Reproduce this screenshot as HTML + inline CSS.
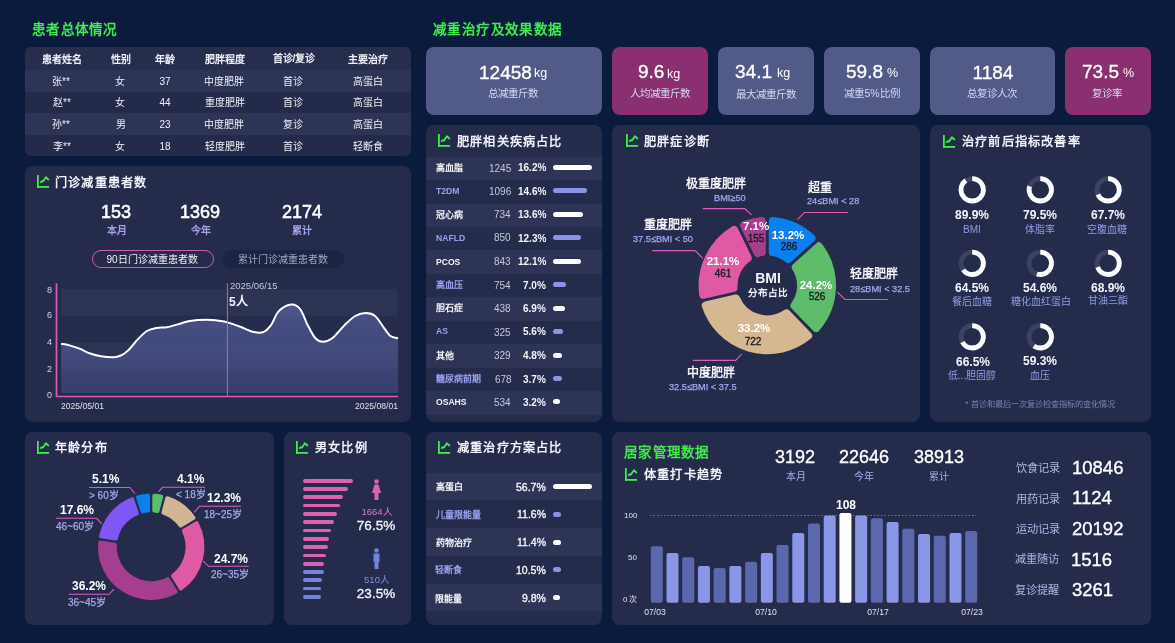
<!DOCTYPE html>
<html lang="zh-CN"><head><meta charset="utf-8"><title>减重门诊数据看板</title>
<style>
html,body{margin:0;padding:0;}
body{width:1175px;height:643px;position:relative;overflow:hidden;background:#0b1b3d;font-family:"Liberation Sans", sans-serif;}
.t{position:absolute;white-space:nowrap;will-change:transform;}
.r{position:absolute;}

</style></head><body>
<div class="t" id="t0" style="left:31.60px;top:20.82px;line-height:17.55px;font-size:13.5px;color:#3fec4c;font-weight:700;letter-spacing:1.3px"><span>患者总体情况</span></div>
<div class="r" style="left:25px;top:47px;width:386.00px;height:109.00px;background:#242a49;border-radius:6px;overflow:hidden"></div>
<div class="r" style="left:25px;top:47px;width:386px;height:109px;border-radius:6px;overflow:hidden">
<div class="r" style="left:0;top:0;width:386px;height:23.4px;background:#262d4d"></div>
<div class="r" style="left:0;top:23.4px;width:386px;height:21.4px;background:#2d3455"></div>
<div class="r" style="left:0;top:66.2px;width:386px;height:21.4px;background:#2d3455"></div>
</div>
<div class="t" id="t1" style="left:-87.70px;width:300px;text-align:center;top:52.70px;line-height:13.0px;font-size:10px;color:#f0f1f8;font-weight:700;"><span>患者姓名</span></div>
<div class="t" id="t2" style="left:-29.20px;width:300px;text-align:center;top:52.70px;line-height:13.0px;font-size:10px;color:#f0f1f8;font-weight:700;"><span>性别</span></div>
<div class="t" id="t3" style="left:15.00px;width:300px;text-align:center;top:52.70px;line-height:13.0px;font-size:10px;color:#f0f1f8;font-weight:700;"><span>年龄</span></div>
<div class="t" id="t4" style="left:74.80px;width:300px;text-align:center;top:52.70px;line-height:13.0px;font-size:10px;color:#f0f1f8;font-weight:700;"><span>肥胖程度</span></div>
<div class="t" id="t5" style="left:143.90px;width:300px;text-align:center;top:52.20px;line-height:13.0px;font-size:10px;color:#f0f1f8;font-weight:700;"><span>首诊/复诊</span></div>
<div class="t" id="t6" style="left:218.00px;width:300px;text-align:center;top:52.70px;line-height:13.0px;font-size:10px;color:#f0f1f8;font-weight:700;"><span>主要治疗</span></div>
<div class="t" id="t7" style="left:-89.20px;width:300px;text-align:center;top:75.30px;line-height:13.0px;font-size:10px;color:#f0f1f8;font-weight:500;"><span>张**</span></div>
<div class="t" id="t8" style="left:-29.70px;width:300px;text-align:center;top:75.30px;line-height:13.0px;font-size:10px;color:#f0f1f8;font-weight:500;"><span>女</span></div>
<div class="t" id="t9" style="left:15.00px;width:300px;text-align:center;top:75.30px;line-height:13.0px;font-size:10px;color:#f0f1f8;font-weight:500;"><span>37</span></div>
<div class="t" id="t10" style="left:74.30px;width:300px;text-align:center;top:75.30px;line-height:13.0px;font-size:10px;color:#f0f1f8;font-weight:500;"><span>中度肥胖</span></div>
<div class="t" id="t11" style="left:143.40px;width:300px;text-align:center;top:75.30px;line-height:13.0px;font-size:10px;color:#f0f1f8;font-weight:500;"><span>首诊</span></div>
<div class="t" id="t12" style="left:218.00px;width:300px;text-align:center;top:75.30px;line-height:13.0px;font-size:10px;color:#f0f1f8;font-weight:500;"><span>高蛋白</span></div>
<div class="t" id="t13" style="left:-88.20px;width:300px;text-align:center;top:96.30px;line-height:13.0px;font-size:10px;color:#f0f1f8;font-weight:500;"><span>赵**</span></div>
<div class="t" id="t14" style="left:-29.70px;width:300px;text-align:center;top:96.30px;line-height:13.0px;font-size:10px;color:#f0f1f8;font-weight:500;"><span>女</span></div>
<div class="t" id="t15" style="left:14.50px;width:300px;text-align:center;top:96.30px;line-height:13.0px;font-size:10px;color:#f0f1f8;font-weight:500;"><span>44</span></div>
<div class="t" id="t16" style="left:74.80px;width:300px;text-align:center;top:96.30px;line-height:13.0px;font-size:10px;color:#f0f1f8;font-weight:500;"><span>重度肥胖</span></div>
<div class="t" id="t17" style="left:143.40px;width:300px;text-align:center;top:96.30px;line-height:13.0px;font-size:10px;color:#f0f1f8;font-weight:500;"><span>首诊</span></div>
<div class="t" id="t18" style="left:218.00px;width:300px;text-align:center;top:96.30px;line-height:13.0px;font-size:10px;color:#f0f1f8;font-weight:500;"><span>高蛋白</span></div>
<div class="t" id="t19" style="left:-89.20px;width:300px;text-align:center;top:117.90px;line-height:13.0px;font-size:10px;color:#f0f1f8;font-weight:500;"><span>孙**</span></div>
<div class="t" id="t20" style="left:-29.20px;width:300px;text-align:center;top:117.90px;line-height:13.0px;font-size:10px;color:#f0f1f8;font-weight:500;"><span>男</span></div>
<div class="t" id="t21" style="left:15.00px;width:300px;text-align:center;top:117.90px;line-height:13.0px;font-size:10px;color:#f0f1f8;font-weight:500;"><span>23</span></div>
<div class="t" id="t22" style="left:74.30px;width:300px;text-align:center;top:117.90px;line-height:13.0px;font-size:10px;color:#f0f1f8;font-weight:500;"><span>中度肥胖</span></div>
<div class="t" id="t23" style="left:142.90px;width:300px;text-align:center;top:117.90px;line-height:13.0px;font-size:10px;color:#f0f1f8;font-weight:500;"><span>复诊</span></div>
<div class="t" id="t24" style="left:218.00px;width:300px;text-align:center;top:117.90px;line-height:13.0px;font-size:10px;color:#f0f1f8;font-weight:500;"><span>高蛋白</span></div>
<div class="t" id="t25" style="left:-88.20px;width:300px;text-align:center;top:139.90px;line-height:13.0px;font-size:10px;color:#f0f1f8;font-weight:500;"><span>李**</span></div>
<div class="t" id="t26" style="left:-29.70px;width:300px;text-align:center;top:139.90px;line-height:13.0px;font-size:10px;color:#f0f1f8;font-weight:500;"><span>女</span></div>
<div class="t" id="t27" style="left:15.00px;width:300px;text-align:center;top:139.90px;line-height:13.0px;font-size:10px;color:#f0f1f8;font-weight:500;"><span>18</span></div>
<div class="t" id="t28" style="left:74.80px;width:300px;text-align:center;top:139.90px;line-height:13.0px;font-size:10px;color:#f0f1f8;font-weight:500;"><span>轻度肥胖</span></div>
<div class="t" id="t29" style="left:143.40px;width:300px;text-align:center;top:139.90px;line-height:13.0px;font-size:10px;color:#f0f1f8;font-weight:500;"><span>首诊</span></div>
<div class="t" id="t30" style="left:218.00px;width:300px;text-align:center;top:139.90px;line-height:13.0px;font-size:10px;color:#f0f1f8;font-weight:500;"><span>轻断食</span></div>
<div class="r" style="left:25px;top:166px;width:386.00px;height:256.00px;background:#252c4b;border-radius:8px;"></div>
<svg class="r" style="left:37px;top:175px" width="13" height="14" viewBox="0 0 13 14"><rect x="0" y="0" width="1.8" height="12.8" fill="#3fec4c"/><rect x="0" y="11" width="12.1" height="1.8" fill="#3fec4c"/><path d="M3.1 7.6L4.8 6.2L6 6.6L8.9 2.2L11.8 5" fill="none" stroke="#3fec4c" stroke-width="1.8" stroke-linejoin="round"/></svg>
<div class="t" id="t31" style="left:55.20px;top:176.27px;line-height:15.86px;font-size:12.2px;color:#f2f3fa;font-weight:700;letter-spacing:1.2px"><span>门诊减重患者数</span></div>
<div class="t" id="t32" style="left:-34.00px;width:300px;text-align:center;top:201.20px;line-height:23.4px;font-size:18px;color:#ffffff;font-weight:400;-webkit-text-stroke:0.55px #fff"><span>153</span></div>
<div class="t" id="t33" style="left:-33.50px;width:300px;text-align:center;top:224.10px;line-height:13.0px;font-size:10px;color:#a6a3e8;font-weight:700;"><span>本月</span></div>
<div class="t" id="t34" style="left:50.30px;width:300px;text-align:center;top:201.20px;line-height:23.4px;font-size:18px;color:#ffffff;font-weight:400;-webkit-text-stroke:0.55px #fff"><span>1369</span></div>
<div class="t" id="t35" style="left:50.80px;width:300px;text-align:center;top:224.10px;line-height:13.0px;font-size:10px;color:#a6a3e8;font-weight:700;"><span>今年</span></div>
<div class="t" id="t36" style="left:152.00px;width:300px;text-align:center;top:201.20px;line-height:23.4px;font-size:18px;color:#ffffff;font-weight:400;-webkit-text-stroke:0.55px #fff"><span>2174</span></div>
<div class="t" id="t37" style="left:152.00px;width:300px;text-align:center;top:224.10px;line-height:13.0px;font-size:10px;color:#a6a3e8;font-weight:700;"><span>累计</span></div>
<div class="r" style="left:91.7px;top:249.8px;width:120.3px;height:16px;border:1px solid #d35ab2;border-radius:9px"></div>
<div class="t" id="t38" style="left:2.20px;width:300px;text-align:center;top:252.70px;line-height:13.0px;font-size:10px;color:#f2f2fa;font-weight:500;"><span>90日门诊减重患者数</span></div>
<div class="r" style="left:222px;top:250px;width:122.00px;height:18.00px;background:#1c2444;border-radius:9px;"></div>
<div class="t" id="t39" style="left:132.50px;width:300px;text-align:center;top:252.50px;line-height:13.0px;font-size:10px;color:#a3a6c2;font-weight:400;"><span>累计门诊减重患者数</span></div>
<svg class="r" style="left:0;top:0" width="1175" height="643"><defs><linearGradient id="ag" x1="0" y1="0" x2="0" y2="1"><stop offset="0" stop-color="#5a62a0" stop-opacity="0.72"/><stop offset="1" stop-color="#4a5290" stop-opacity="0.5"/></linearGradient></defs><rect x="61" y="289" width="336.6" height="26.7" fill="#2d3453"/><rect x="61" y="342.4" width="336.6" height="26.7" fill="#2d3453"/><path d="M61.10,343.70 C62.63,344.02 67.23,344.78 70.30,345.60 C73.37,346.42 76.18,347.28 79.50,348.60 C82.82,349.92 86.62,352.22 90.20,353.50 C93.78,354.78 97.17,355.67 101.00,356.30 C104.83,356.93 109.88,357.43 113.20,357.30 C116.52,357.17 118.35,356.70 120.90,355.50 C123.45,354.30 125.70,352.78 128.50,350.10 C131.30,347.42 134.63,342.58 137.70,339.40 C140.77,336.22 143.83,332.92 146.90,331.00 C149.97,329.08 152.78,328.53 156.10,327.90 C159.42,327.27 163.23,327.78 166.80,327.20 C170.37,326.62 173.67,325.43 177.50,324.40 C181.33,323.37 184.93,321.77 189.80,321.00 C194.67,320.23 201.60,319.80 206.70,319.80 C211.80,319.80 216.95,320.57 220.40,321.00 C223.85,321.43 224.08,321.43 227.40,322.40 C230.72,323.37 236.10,325.25 240.30,326.80 C244.50,328.35 248.77,330.82 252.60,331.70 C256.43,332.58 260.23,333.18 263.30,332.10 C266.37,331.02 268.45,328.65 271.00,325.20 C273.55,321.75 275.28,314.83 278.60,311.40 C281.92,307.97 287.32,304.98 290.90,304.60 C294.48,304.22 297.30,305.67 300.10,309.10 C302.90,312.53 305.15,320.33 307.70,325.20 C310.25,330.07 312.85,335.53 315.40,338.30 C317.95,341.07 320.20,341.80 323.00,341.80 C325.80,341.80 328.62,341.07 332.20,338.30 C335.78,335.53 340.67,328.92 344.50,325.20 C348.33,321.48 351.63,318.03 355.20,316.00 C358.77,313.97 362.58,313.00 365.90,313.00 C369.22,313.00 372.03,313.45 375.10,316.00 C378.17,318.55 381.75,324.97 384.30,328.30 C386.85,331.63 388.10,334.33 390.40,336.00 C392.70,337.67 396.82,337.92 398.10,338.30 L398.1,393 L61.1,393 Z" fill="url(#ag)"/><path d="M61.10,343.70 C62.63,344.02 67.23,344.78 70.30,345.60 C73.37,346.42 76.18,347.28 79.50,348.60 C82.82,349.92 86.62,352.22 90.20,353.50 C93.78,354.78 97.17,355.67 101.00,356.30 C104.83,356.93 109.88,357.43 113.20,357.30 C116.52,357.17 118.35,356.70 120.90,355.50 C123.45,354.30 125.70,352.78 128.50,350.10 C131.30,347.42 134.63,342.58 137.70,339.40 C140.77,336.22 143.83,332.92 146.90,331.00 C149.97,329.08 152.78,328.53 156.10,327.90 C159.42,327.27 163.23,327.78 166.80,327.20 C170.37,326.62 173.67,325.43 177.50,324.40 C181.33,323.37 184.93,321.77 189.80,321.00 C194.67,320.23 201.60,319.80 206.70,319.80 C211.80,319.80 216.95,320.57 220.40,321.00 C223.85,321.43 224.08,321.43 227.40,322.40 C230.72,323.37 236.10,325.25 240.30,326.80 C244.50,328.35 248.77,330.82 252.60,331.70 C256.43,332.58 260.23,333.18 263.30,332.10 C266.37,331.02 268.45,328.65 271.00,325.20 C273.55,321.75 275.28,314.83 278.60,311.40 C281.92,307.97 287.32,304.98 290.90,304.60 C294.48,304.22 297.30,305.67 300.10,309.10 C302.90,312.53 305.15,320.33 307.70,325.20 C310.25,330.07 312.85,335.53 315.40,338.30 C317.95,341.07 320.20,341.80 323.00,341.80 C325.80,341.80 328.62,341.07 332.20,338.30 C335.78,335.53 340.67,328.92 344.50,325.20 C348.33,321.48 351.63,318.03 355.20,316.00 C358.77,313.97 362.58,313.00 365.90,313.00 C369.22,313.00 372.03,313.45 375.10,316.00 C378.17,318.55 381.75,324.97 384.30,328.30 C386.85,331.63 388.10,334.33 390.40,336.00 C392.70,337.67 396.82,337.92 398.10,338.30" fill="none" stroke="#ffffff" stroke-width="2"/><path d="M56.5,283.3V396.5H398.1" fill="none" stroke="#d85cb8" stroke-width="1.7"/><path d="M227.4,283.3V396" stroke="#d35ab2" stroke-width="1"/></svg>
<div class="t" id="t40" style="right:1123.00px;text-align:right;top:284.55px;line-height:11.7px;font-size:9px;color:#d4d6e4;font-weight:400;"><span>8</span></div>
<div class="t" id="t41" style="right:1123.00px;text-align:right;top:310.35px;line-height:11.7px;font-size:9px;color:#d4d6e4;font-weight:400;"><span>6</span></div>
<div class="t" id="t42" style="right:1123.00px;text-align:right;top:337.15px;line-height:11.7px;font-size:9px;color:#d4d6e4;font-weight:400;"><span>4</span></div>
<div class="t" id="t43" style="right:1123.00px;text-align:right;top:364.15px;line-height:11.7px;font-size:9px;color:#d4d6e4;font-weight:400;"><span>2</span></div>
<div class="t" id="t44" style="right:1123.00px;text-align:right;top:390.35px;line-height:11.7px;font-size:9px;color:#d4d6e4;font-weight:400;"><span>0</span></div>
<div class="t" id="t45" style="left:229.80px;top:279.92px;line-height:12.35px;font-size:9.5px;color:#c8cad8;font-weight:400;"><span>2025/06/15</span></div>
<div class="t" id="t46" style="left:229.40px;top:294.50px;line-height:15.6px;font-size:12px;color:#f4f4fa;font-weight:700;"><span>5人</span></div>
<div class="t" id="t47" style="left:61.00px;top:401.31px;line-height:11.18px;font-size:8.6px;color:#e0e2ee;font-weight:400;"><span>2025/05/01</span></div>
<div class="t" id="t48" style="right:777.20px;text-align:right;top:401.31px;line-height:11.18px;font-size:8.6px;color:#e0e2ee;font-weight:400;"><span>2025/08/01</span></div>
<div class="r" style="left:25px;top:432px;width:249.00px;height:193.00px;background:#252c4b;border-radius:8px;"></div>
<svg class="r" style="left:37px;top:441px" width="13" height="14" viewBox="0 0 13 14"><rect x="0" y="0" width="1.8" height="12.8" fill="#3fec4c"/><rect x="0" y="11" width="12.1" height="1.8" fill="#3fec4c"/><path d="M3.1 7.6L4.8 6.2L6 6.6L8.9 2.2L11.8 5" fill="none" stroke="#3fec4c" stroke-width="1.8" stroke-linejoin="round"/></svg>
<div class="t" id="t49" style="left:55.00px;top:441.07px;line-height:15.86px;font-size:12.2px;color:#f2f3fa;font-weight:700;letter-spacing:1.2px"><span>年龄分布</span></div>
<svg class="r" style="left:0;top:0" width="1175" height="643"><path d="M154.30,495.69 A51.20,51.20 0 0 1 161.22,496.59 L157.44,510.94 A36.40,36.40 0 0 0 154.30,510.53 Z" fill="#5dbd6b" stroke="#5dbd6b" stroke-width="4" stroke-linejoin="round"/><path d="M167.22,498.17 A51.20,51.20 0 0 1 193.43,517.85 L180.71,525.48 A36.40,36.40 0 0 0 163.44,512.52 Z" fill="#d4b591" stroke="#d4b591" stroke-width="4" stroke-linejoin="round"/><path d="M196.62,523.17 A51.20,51.20 0 0 1 180.94,588.48 L173.07,575.90 A36.40,36.40 0 0 0 183.90,530.80 Z" fill="#df5aa3" stroke="#df5aa3" stroke-width="4" stroke-linejoin="round"/><path d="M175.68,591.77 A51.20,51.20 0 0 1 100.18,542.51 L114.86,544.64 A36.40,36.40 0 0 0 167.81,579.19 Z" fill="#a63d8e" stroke="#a63d8e" stroke-width="4" stroke-linejoin="round"/><path d="M101.07,536.37 A51.20,51.20 0 0 1 132.16,499.27 L136.83,513.35 A36.40,36.40 0 0 0 115.76,538.51 Z" fill="#7f57f5" stroke="#7f57f5" stroke-width="4" stroke-linejoin="round"/><path d="M138.04,497.32 A51.20,51.20 0 0 1 148.10,495.69 L148.10,510.53 A36.40,36.40 0 0 0 142.72,511.40 Z" fill="#0b80f0" stroke="#0b80f0" stroke-width="4" stroke-linejoin="round"/><path d="M89.2,487.5H129.8L134.9,493.5" fill="none" stroke="#de5cc0" stroke-width="1.1"/><path d="M158.7,491.7L162.5,487.3H205" fill="none" stroke="#de5cc0" stroke-width="1.1"/><path d="M194.1,512.3L199.5,506.3H240.9" fill="none" stroke="#de5cc0" stroke-width="1.1"/><path d="M56,518.3H96.8L101.7,523.8" fill="none" stroke="#de5cc0" stroke-width="1.1"/><path d="M203.2,561.2L208.6,566.3H248.9" fill="none" stroke="#de5cc0" stroke-width="1.1"/><path d="M68.7,594.3H109L113.9,589.1" fill="none" stroke="#de5cc0" stroke-width="1.1"/></svg>
<div class="t" id="t50" style="right:1055.60px;text-align:right;top:471.90px;line-height:15.6px;font-size:12px;color:#fff;font-weight:700;"><span>5.1%</span></div>
<div class="t" id="t51" style="right:1056.00px;text-align:right;top:489.00px;line-height:13.0px;font-size:10px;color:#a3a9ee;font-weight:400;-webkit-text-stroke:0.25px #a3a9ee"><span>&gt; 60岁</span></div>
<div class="t" id="t52" style="right:970.20px;text-align:right;top:471.90px;line-height:15.6px;font-size:12px;color:#fff;font-weight:700;"><span>4.1%</span></div>
<div class="t" id="t53" style="right:969.40px;text-align:right;top:488.40px;line-height:13.0px;font-size:10px;color:#a3a9ee;font-weight:400;-webkit-text-stroke:0.25px #a3a9ee"><span>&lt; 18岁</span></div>
<div class="t" id="t54" style="right:934.40px;text-align:right;top:491.10px;line-height:15.6px;font-size:12px;color:#fff;font-weight:700;"><span>12.3%</span></div>
<div class="t" id="t55" style="right:933.40px;text-align:right;top:507.60px;line-height:13.0px;font-size:10px;color:#a3a9ee;font-weight:400;-webkit-text-stroke:0.25px #a3a9ee"><span>18~25岁</span></div>
<div class="t" id="t56" style="right:1081.40px;text-align:right;top:502.90px;line-height:15.6px;font-size:12px;color:#fff;font-weight:700;"><span>17.6%</span></div>
<div class="t" id="t57" style="right:1080.60px;text-align:right;top:519.60px;line-height:13.0px;font-size:10px;color:#a3a9ee;font-weight:400;-webkit-text-stroke:0.25px #a3a9ee"><span>46~60岁</span></div>
<div class="t" id="t58" style="right:926.80px;text-align:right;top:551.70px;line-height:15.6px;font-size:12px;color:#fff;font-weight:700;"><span>24.7%</span></div>
<div class="t" id="t59" style="right:925.80px;text-align:right;top:568.40px;line-height:13.0px;font-size:10px;color:#a3a9ee;font-weight:400;-webkit-text-stroke:0.25px #a3a9ee"><span>26~35岁</span></div>
<div class="t" id="t60" style="right:1069.20px;text-align:right;top:578.90px;line-height:15.6px;font-size:12px;color:#fff;font-weight:700;"><span>36.2%</span></div>
<div class="t" id="t61" style="right:1068.80px;text-align:right;top:595.60px;line-height:13.0px;font-size:10px;color:#a3a9ee;font-weight:400;-webkit-text-stroke:0.25px #a3a9ee"><span>36~45岁</span></div>
<div class="r" style="left:284px;top:432px;width:127.00px;height:193.00px;background:#252c4b;border-radius:8px;"></div>
<svg class="r" style="left:296px;top:441px" width="13" height="14" viewBox="0 0 13 14"><rect x="0" y="0" width="1.8" height="12.8" fill="#3fec4c"/><rect x="0" y="11" width="12.1" height="1.8" fill="#3fec4c"/><path d="M3.1 7.6L4.8 6.2L6 6.6L8.9 2.2L11.8 5" fill="none" stroke="#3fec4c" stroke-width="1.8" stroke-linejoin="round"/></svg>
<div class="t" id="t62" style="left:315.00px;top:441.07px;line-height:15.86px;font-size:12.2px;color:#f2f3fa;font-weight:700;letter-spacing:1.2px"><span>男女比例</span></div>
<div class="r" style="left:302.6px;top:478.8px;width:50.50px;height:3.80px;background:#dc62b4;border-radius:2px;"></div>
<div class="r" style="left:302.6px;top:487.1px;width:45.00px;height:3.80px;background:#dc62b4;border-radius:2px;"></div>
<div class="r" style="left:302.6px;top:495.4px;width:40.60px;height:3.80px;background:#dc62b4;border-radius:2px;"></div>
<div class="r" style="left:302.6px;top:503.7px;width:37.30px;height:3.80px;background:#dc62b4;border-radius:2px;"></div>
<div class="r" style="left:302.6px;top:512.0px;width:34.30px;height:3.80px;background:#dc62b4;border-radius:2px;"></div>
<div class="r" style="left:302.6px;top:520.3px;width:31.00px;height:3.80px;background:#dc62b4;border-radius:2px;"></div>
<div class="r" style="left:302.6px;top:528.6px;width:28.90px;height:3.80px;background:#dc62b4;border-radius:2px;"></div>
<div class="r" style="left:302.6px;top:536.9px;width:26.40px;height:3.80px;background:#dc62b4;border-radius:2px;"></div>
<div class="r" style="left:302.6px;top:545.2px;width:25.60px;height:3.80px;background:#dc62b4;border-radius:2px;"></div>
<div class="r" style="left:302.6px;top:553.5px;width:23.50px;height:3.80px;background:#dc62b4;border-radius:2px;"></div>
<div class="r" style="left:302.6px;top:561.8px;width:21.40px;height:3.80px;background:#dc62b4;border-radius:2px;"></div>
<div class="r" style="left:302.6px;top:570.1px;width:21.40px;height:3.80px;background:#7384e0;border-radius:2px;"></div>
<div class="r" style="left:302.6px;top:578.4px;width:19.90px;height:3.80px;background:#7384e0;border-radius:2px;"></div>
<div class="r" style="left:302.6px;top:586.7px;width:18.40px;height:3.80px;background:#7384e0;border-radius:2px;"></div>
<div class="r" style="left:302.6px;top:595.0px;width:18.40px;height:3.80px;background:#7384e0;border-radius:2px;"></div>
<svg class="r" style="left:370px;top:479px" width="13" height="22" viewBox="0 0 13 22"><circle cx="6.5" cy="2.5" r="2.3" fill="#dc62b4"/><path d="M4.5 5.5H8.5L11 14H8.5V21H4.5V14H2Z" fill="#dc62b4"/></svg>
<svg class="r" style="left:370px;top:548px" width="13" height="22" viewBox="0 0 13 22"><circle cx="6.5" cy="2.5" r="2.3" fill="#7384e0"/><path d="M3.5 5.5H9.5V14H8.5V21H4.5V14H3.5Z" fill="#7384e0"/></svg>
<div class="t" id="t63" style="left:226.70px;width:300px;text-align:center;top:505.92px;line-height:12.35px;font-size:9.5px;color:#d77fc0;font-weight:500;"><span>1664人</span></div>
<div class="t" id="t64" style="left:226.00px;width:300px;text-align:center;top:517.42px;line-height:17.55px;font-size:13.5px;color:#f6f6fb;font-weight:400;-webkit-text-stroke:0.3px #f6f6fb"><span>76.5%</span></div>
<div class="t" id="t65" style="left:227.00px;width:300px;text-align:center;top:573.73px;line-height:12.35px;font-size:9.5px;color:#7e8ee8;font-weight:500;"><span>510人</span></div>
<div class="t" id="t66" style="left:226.00px;width:300px;text-align:center;top:585.23px;line-height:17.55px;font-size:13.5px;color:#f6f6fb;font-weight:400;-webkit-text-stroke:0.3px #f6f6fb"><span>23.5%</span></div>
<div class="t" id="t67" style="left:433.40px;top:20.63px;line-height:17.55px;font-size:13.5px;color:#3fec4c;font-weight:700;letter-spacing:1.4px"><span>减重治疗及效果数据</span></div>
<div class="r" style="left:426px;top:47px;width:176.00px;height:68.00px;background:#525a87;border-radius:8px;"></div>
<div class="t" id="t68" style="right:643.00px;text-align:right;top:60.65px;line-height:24.7px;font-size:19px;color:#ffffff;font-weight:400;-webkit-text-stroke:0.35px #fff"><span>12458</span></div>
<div class="t" id="t69" style="left:534.00px;top:65.47px;line-height:16.25px;font-size:12.5px;color:#ffffff;font-weight:400;"><span>kg</span></div>
<div class="t" id="t70" style="left:363.00px;width:300px;text-align:center;top:87.17px;line-height:13.65px;font-size:10.5px;color:#d6d8f2;font-weight:500;"><span>总减重斤数</span></div>
<div class="r" style="left:612px;top:47px;width:96.00px;height:68.00px;background:#8a2f6f;border-radius:8px;"></div>
<div class="t" id="t71" style="right:510.50px;text-align:right;top:60.25px;line-height:24.7px;font-size:19px;color:#ffffff;font-weight:400;-webkit-text-stroke:0.35px #fff"><span>9.6</span></div>
<div class="t" id="t72" style="left:666.50px;top:65.88px;line-height:16.25px;font-size:12.5px;color:#ffffff;font-weight:400;"><span>kg</span></div>
<div class="t" id="t73" style="left:509.50px;width:300px;text-align:center;top:86.78px;line-height:13.65px;font-size:10.5px;color:#d6d8f2;font-weight:500;"><span>人均减重斤数</span></div>
<div class="r" style="left:718px;top:47px;width:96.00px;height:68.00px;background:#525a87;border-radius:8px;"></div>
<div class="t" id="t74" style="right:403.00px;text-align:right;top:60.15px;line-height:24.7px;font-size:19px;color:#ffffff;font-weight:400;-webkit-text-stroke:0.35px #fff"><span>34.1</span></div>
<div class="t" id="t75" style="left:776.50px;top:65.47px;line-height:16.25px;font-size:12.5px;color:#ffffff;font-weight:400;"><span>kg</span></div>
<div class="t" id="t76" style="left:615.50px;width:300px;text-align:center;top:87.67px;line-height:13.65px;font-size:10.5px;color:#d6d8f2;font-weight:500;"><span>最大减重斤数</span></div>
<div class="r" style="left:824px;top:47px;width:96.00px;height:68.00px;background:#525a87;border-radius:8px;"></div>
<div class="t" id="t77" style="right:292.00px;text-align:right;top:60.25px;line-height:24.7px;font-size:19px;color:#ffffff;font-weight:400;-webkit-text-stroke:0.35px #fff"><span>59.8</span></div>
<div class="t" id="t78" style="left:886.50px;top:65.38px;line-height:16.25px;font-size:12.5px;color:#ffffff;font-weight:400;"><span>%</span></div>
<div class="t" id="t79" style="left:721.50px;width:300px;text-align:center;top:86.78px;line-height:13.65px;font-size:10.5px;color:#d6d8f2;font-weight:500;"><span>减重5%比例</span></div>
<div class="r" style="left:930px;top:47px;width:125.00px;height:68.00px;background:#525a87;border-radius:8px;"></div>
<div class="t" id="t80" style="left:842.50px;width:300px;text-align:center;top:60.65px;line-height:24.7px;font-size:19px;color:#ffffff;font-weight:400;-webkit-text-stroke:0.35px #fff"><span>1184</span></div>
<div class="t" id="t81" style="left:841.50px;width:300px;text-align:center;top:87.16px;line-height:13.65px;font-size:10.5px;color:#d6d8f2;font-weight:500;"><span>总复诊人次</span></div>
<div class="r" style="left:1065px;top:47px;width:86.00px;height:68.00px;background:#8a2f6f;border-radius:8px;"></div>
<div class="t" id="t82" style="right:56.10px;text-align:right;top:60.13px;line-height:24.7px;font-size:19px;color:#ffffff;font-weight:400;-webkit-text-stroke:0.35px #fff"><span>73.5</span></div>
<div class="t" id="t83" style="left:1123.00px;top:65.36px;line-height:16.25px;font-size:12.5px;color:#ffffff;font-weight:400;"><span>%</span></div>
<div class="t" id="t84" style="left:957.00px;width:300px;text-align:center;top:86.70px;line-height:13.65px;font-size:10.5px;color:#d6d8f2;font-weight:500;"><span>复诊率</span></div>
<div class="r" style="left:426px;top:125px;width:176.00px;height:297.00px;background:#252c4b;border-radius:8px;"></div>
<svg class="r" style="left:438px;top:134px" width="13" height="14" viewBox="0 0 13 14"><rect x="0" y="0" width="1.8" height="12.8" fill="#3fec4c"/><rect x="0" y="11" width="12.1" height="1.8" fill="#3fec4c"/><path d="M3.1 7.6L4.8 6.2L6 6.6L8.9 2.2L11.8 5" fill="none" stroke="#3fec4c" stroke-width="1.8" stroke-linejoin="round"/></svg>
<div class="t" id="t85" style="left:457.40px;top:134.60px;line-height:15.86px;font-size:12.2px;color:#f2f3fa;font-weight:700;letter-spacing:1.2px"><span>肥胖相关疾病占比</span></div>
<div class="r" style="left:426px;top:125px;width:176px;height:297px;border-radius:8px;overflow:hidden">
<div class="r" style="left:0;top:31.60px;width:176px;height:23.45px;background:#2d3455"></div>
<div class="r" style="left:0;top:78.50px;width:176px;height:23.45px;background:#2d3455"></div>
<div class="r" style="left:0;top:125.40px;width:176px;height:23.45px;background:#2d3455"></div>
<div class="r" style="left:0;top:172.30px;width:176px;height:23.45px;background:#2d3455"></div>
<div class="r" style="left:0;top:219.20px;width:176px;height:23.45px;background:#2d3455"></div>
<div class="r" style="left:0;top:266.10px;width:176px;height:23.45px;background:#2d3455"></div>
</div>
<div class="t" id="t86" style="left:436.00px;top:162.98px;line-height:11.7px;font-size:9px;color:#f4f4fa;font-weight:700;"><span>高血脂</span></div>
<div class="t" id="t87" style="right:664.00px;text-align:right;top:161.88px;line-height:13.0px;font-size:10px;color:#c6c9dc;font-weight:400;"><span>1245</span></div>
<div class="t" id="t88" style="right:628.60px;text-align:right;top:161.38px;line-height:13.0px;font-size:10px;color:#f4f4fa;font-weight:700;"><span>16.2%</span></div>
<div class="r" style="left:553px;top:164.92px;width:38.80px;height:5.00px;background:#ffffff;border-radius:2.5px;"></div>
<div class="t" id="t89" style="left:436.00px;top:186.04px;line-height:11.18px;font-size:8.6px;color:#9aa2f0;font-weight:700;"><span>T2DM</span></div>
<div class="t" id="t90" style="right:664.00px;text-align:right;top:185.18px;line-height:13.0px;font-size:10px;color:#c6c9dc;font-weight:400;"><span>1096</span></div>
<div class="t" id="t91" style="right:628.60px;text-align:right;top:185.18px;line-height:13.0px;font-size:10px;color:#f4f4fa;font-weight:700;"><span>14.6%</span></div>
<div class="r" style="left:553px;top:188.37px;width:34.30px;height:5.00px;background:#8a94e6;border-radius:2.5px;"></div>
<div class="t" id="t92" style="left:436.00px;top:209.59px;line-height:11.7px;font-size:9px;color:#f4f4fa;font-weight:700;"><span>冠心病</span></div>
<div class="t" id="t93" style="right:664.00px;text-align:right;top:208.06px;line-height:13.0px;font-size:10px;color:#c6c9dc;font-weight:400;"><span>734</span></div>
<div class="t" id="t94" style="right:628.60px;text-align:right;top:208.04px;line-height:13.0px;font-size:10px;color:#f4f4fa;font-weight:700;"><span>13.6%</span></div>
<div class="r" style="left:553px;top:211.82px;width:29.80px;height:5.00px;background:#ffffff;border-radius:2.5px;"></div>
<div class="t" id="t95" style="left:436.00px;top:232.70px;line-height:11.18px;font-size:8.6px;color:#9aa2f0;font-weight:700;"><span>NAFLD</span></div>
<div class="t" id="t96" style="right:664.00px;text-align:right;top:231.37px;line-height:13.0px;font-size:10px;color:#c6c9dc;font-weight:400;"><span>850</span></div>
<div class="t" id="t97" style="right:628.60px;text-align:right;top:231.87px;line-height:13.0px;font-size:10px;color:#f4f4fa;font-weight:700;"><span>12.3%</span></div>
<div class="r" style="left:553px;top:235.27px;width:27.60px;height:5.00px;background:#8a94e6;border-radius:2.5px;"></div>
<div class="t" id="t98" style="left:436.00px;top:256.68px;line-height:11.18px;font-size:8.6px;color:#f4f4fa;font-weight:700;"><span>PCOS</span></div>
<div class="t" id="t99" style="right:664.00px;text-align:right;top:254.76px;line-height:13.0px;font-size:10px;color:#c6c9dc;font-weight:400;"><span>843</span></div>
<div class="t" id="t100" style="right:628.60px;text-align:right;top:254.75px;line-height:13.0px;font-size:10px;color:#f4f4fa;font-weight:700;"><span>12.1%</span></div>
<div class="r" style="left:553px;top:258.73px;width:27.60px;height:5.00px;background:#ffffff;border-radius:2.5px;"></div>
<div class="t" id="t101" style="left:436.00px;top:280.15px;line-height:11.7px;font-size:9px;color:#9aa2f0;font-weight:700;"><span>高血压</span></div>
<div class="t" id="t102" style="right:664.00px;text-align:right;top:278.62px;line-height:13.0px;font-size:10px;color:#c6c9dc;font-weight:400;"><span>754</span></div>
<div class="t" id="t103" style="right:629.60px;text-align:right;top:278.62px;line-height:13.0px;font-size:10px;color:#f4f4fa;font-weight:700;"><span>7.0%</span></div>
<div class="r" style="left:553px;top:282.18px;width:13.40px;height:5.00px;background:#8a94e6;border-radius:2.5px;"></div>
<div class="t" id="t104" style="left:436.00px;top:302.94px;line-height:11.7px;font-size:9px;color:#f4f4fa;font-weight:700;"><span>胆石症</span></div>
<div class="t" id="t105" style="right:664.00px;text-align:right;top:301.81px;line-height:13.0px;font-size:10px;color:#c6c9dc;font-weight:400;"><span>438</span></div>
<div class="t" id="t106" style="right:629.60px;text-align:right;top:302.30px;line-height:13.0px;font-size:10px;color:#f4f4fa;font-weight:700;"><span>6.9%</span></div>
<div class="r" style="left:553px;top:305.62px;width:12.30px;height:5.00px;background:#ffffff;border-radius:2.5px;"></div>
<div class="t" id="t107" style="left:436.00px;top:326.08px;line-height:11.18px;font-size:8.6px;color:#9aa2f0;font-weight:700;"><span>AS</span></div>
<div class="t" id="t108" style="right:664.00px;text-align:right;top:325.70px;line-height:13.0px;font-size:10px;color:#c6c9dc;font-weight:400;"><span>325</span></div>
<div class="t" id="t109" style="right:629.60px;text-align:right;top:325.22px;line-height:13.0px;font-size:10px;color:#f4f4fa;font-weight:700;"><span>5.6%</span></div>
<div class="r" style="left:553px;top:329.08px;width:10.10px;height:5.00px;background:#8a94e6;border-radius:2.5px;"></div>
<div class="t" id="t110" style="left:436.00px;top:350.62px;line-height:11.7px;font-size:9px;color:#f4f4fa;font-weight:700;"><span>其他</span></div>
<div class="t" id="t111" style="right:664.00px;text-align:right;top:349.02px;line-height:13.0px;font-size:10px;color:#c6c9dc;font-weight:400;"><span>329</span></div>
<div class="t" id="t112" style="right:629.60px;text-align:right;top:349.02px;line-height:13.0px;font-size:10px;color:#f4f4fa;font-weight:700;"><span>4.8%</span></div>
<div class="r" style="left:553px;top:352.53px;width:9.40px;height:5.00px;background:#ffffff;border-radius:2.5px;"></div>
<div class="t" id="t113" style="left:436.00px;top:374.42px;line-height:11.7px;font-size:9px;color:#9aa2f0;font-weight:700;"><span>糖尿病前期</span></div>
<div class="t" id="t114" style="right:663.30px;text-align:right;top:372.70px;line-height:13.0px;font-size:10px;color:#c6c9dc;font-weight:400;"><span>678</span></div>
<div class="t" id="t115" style="right:629.50px;text-align:right;top:372.80px;line-height:13.0px;font-size:10px;color:#f4f4fa;font-weight:700;"><span>3.7%</span></div>
<div class="r" style="left:553px;top:375.98px;width:8.70px;height:5.00px;background:#8a94e6;border-radius:2.5px;"></div>
<div class="t" id="t116" style="left:435.50px;top:396.86px;line-height:11.18px;font-size:8.6px;color:#f4f4fa;font-weight:700;"><span>OSAHS</span></div>
<div class="t" id="t117" style="right:664.20px;text-align:right;top:396.35px;line-height:13.0px;font-size:10px;color:#c6c9dc;font-weight:400;"><span>534</span></div>
<div class="t" id="t118" style="right:629.20px;text-align:right;top:395.65px;line-height:13.0px;font-size:10px;color:#f4f4fa;font-weight:700;"><span>3.2%</span></div>
<div class="r" style="left:553px;top:399.43px;width:7.10px;height:5.00px;background:#ffffff;border-radius:2.5px;"></div>
<div class="r" style="left:612px;top:125px;width:308.00px;height:297.00px;background:#252c4b;border-radius:8px;"></div>
<svg class="r" style="left:626px;top:134px" width="13" height="14" viewBox="0 0 13 14"><rect x="0" y="0" width="1.8" height="12.8" fill="#3fec4c"/><rect x="0" y="11" width="12.1" height="1.8" fill="#3fec4c"/><path d="M3.1 7.6L4.8 6.2L6 6.6L8.9 2.2L11.8 5" fill="none" stroke="#3fec4c" stroke-width="1.8" stroke-linejoin="round"/></svg>
<div class="t" id="t119" style="left:644.40px;top:135.07px;line-height:15.86px;font-size:12.2px;color:#f2f3fa;font-weight:700;letter-spacing:1.2px"><span>肥胖症诊断</span></div>
<svg class="r" style="left:0;top:0" width="1175" height="643"><path d="M772.80,221.03 A64.70,64.70 0 0 1 811.44,238.19 L788.35,259.06 A33.80,33.80 0 0 0 772.80,252.15 Z" fill="#0b80f0" stroke="#0b80f0" stroke-width="8" stroke-linejoin="round"/><path d="M818.81,246.35 A64.70,64.70 0 0 1 816.07,328.02 L794.44,305.65 A33.80,33.80 0 0 0 795.73,267.22 Z" fill="#5dbd6b" stroke="#5dbd6b" stroke-width="8" stroke-linejoin="round"/><path d="M808.16,335.67 A64.70,64.70 0 0 1 705.77,305.52 L736.07,298.44 A33.80,33.80 0 0 0 786.53,313.30 Z" fill="#d5b791" stroke="#d5b791" stroke-width="8" stroke-linejoin="round"/><path d="M703.27,294.80 A64.70,64.70 0 0 1 734.14,229.94 L747.76,257.92 A33.80,33.80 0 0 0 733.57,287.73 Z" fill="#df5aa3" stroke="#df5aa3" stroke-width="8" stroke-linejoin="round"/><path d="M744.03,225.13 A64.70,64.70 0 0 1 761.80,221.03 L761.80,252.15 A33.80,33.80 0 0 0 757.65,253.11 Z" fill="#a63d8e" stroke="#a63d8e" stroke-width="8" stroke-linejoin="round"/><path d="M702.8,208.6H744.8L751.5,214.9" fill="none" stroke="#de5cc0" stroke-width="1.1"/><path d="M797.4,219.7L804.4,212.5H847.9" fill="none" stroke="#de5cc0" stroke-width="1.1"/><path d="M652.4,250.6H695.1L702.8,258.3" fill="none" stroke="#de5cc0" stroke-width="1.1"/><path d="M837.4,292.2L844.9,299.5H887.7" fill="none" stroke="#de5cc0" stroke-width="1.1"/><path d="M741.7,354.1L735.7,360.4H692.9" fill="none" stroke="#de5cc0" stroke-width="1.1"/></svg>
<div class="t" id="t120" style="left:638.40px;width:300px;text-align:center;top:227.62px;line-height:14.95px;font-size:11.5px;color:#fff;font-weight:700;"><span>13.2%</span></div>
<div class="t" id="t121" style="left:638.80px;width:300px;text-align:center;top:240.40px;line-height:13.0px;font-size:10px;color:#16161f;font-weight:400;-webkit-text-stroke:0.3px #16161f"><span>286</span></div>
<div class="t" id="t122" style="left:605.80px;width:300px;text-align:center;top:219.32px;line-height:14.95px;font-size:11.5px;color:#fff;font-weight:700;"><span>7.1%</span></div>
<div class="t" id="t123" style="left:605.50px;width:300px;text-align:center;top:232.40px;line-height:13.0px;font-size:10px;color:#16161f;font-weight:400;-webkit-text-stroke:0.3px #16161f"><span>155</span></div>
<div class="t" id="t124" style="left:572.50px;width:300px;text-align:center;top:253.72px;line-height:14.95px;font-size:11.5px;color:#fff;font-weight:700;"><span>21.1%</span></div>
<div class="t" id="t125" style="left:572.90px;width:300px;text-align:center;top:266.50px;line-height:13.0px;font-size:10px;color:#16161f;font-weight:400;-webkit-text-stroke:0.3px #16161f"><span>461</span></div>
<div class="t" id="t126" style="left:665.90px;width:300px;text-align:center;top:278.02px;line-height:14.95px;font-size:11.5px;color:#fff;font-weight:700;"><span>24.2%</span></div>
<div class="t" id="t127" style="left:666.60px;width:300px;text-align:center;top:290.30px;line-height:13.0px;font-size:10px;color:#16161f;font-weight:400;-webkit-text-stroke:0.3px #16161f"><span>526</span></div>
<div class="t" id="t128" style="left:604.10px;width:300px;text-align:center;top:320.62px;line-height:14.95px;font-size:11.5px;color:#fff;font-weight:700;"><span>33.2%</span></div>
<div class="t" id="t129" style="left:603.30px;width:300px;text-align:center;top:334.50px;line-height:13.0px;font-size:10px;color:#16161f;font-weight:400;-webkit-text-stroke:0.3px #16161f"><span>722</span></div>
<div class="t" id="t130" style="left:617.80px;width:300px;text-align:center;top:268.90px;line-height:18.2px;font-size:14px;color:#f4f4fa;font-weight:700;"><span>BMI</span></div>
<div class="t" id="t131" style="left:617.70px;width:300px;text-align:center;top:286.96px;line-height:12.48px;font-size:9.6px;color:#f4f4fa;font-weight:700;"><span>分布占比</span></div>
<div class="t" id="t132" style="right:429.30px;text-align:right;top:176.70px;line-height:15.6px;font-size:12px;color:#f4f4fa;font-weight:700;"><span>极重度肥胖</span></div>
<div class="t" id="t133" style="right:429.40px;text-align:right;top:192.62px;line-height:11.96px;font-size:9.2px;color:#a2a8f0;font-weight:400;-webkit-text-stroke:0.25px #a2a8f0"><span>BMI≥50</span></div>
<div class="t" id="t134" style="left:807.60px;top:180.60px;line-height:15.6px;font-size:12px;color:#f4f4fa;font-weight:700;"><span>超重</span></div>
<div class="t" id="t135" style="left:807.20px;top:196.02px;line-height:11.96px;font-size:9.2px;color:#a2a8f0;font-weight:400;-webkit-text-stroke:0.25px #a2a8f0"><span>24≤BMI &lt; 28</span></div>
<div class="t" id="t136" style="right:482.80px;text-align:right;top:218.20px;line-height:15.6px;font-size:12px;color:#f4f4fa;font-weight:700;"><span>重度肥胖</span></div>
<div class="t" id="t137" style="right:482.50px;text-align:right;top:234.02px;line-height:11.96px;font-size:9.2px;color:#a2a8f0;font-weight:400;-webkit-text-stroke:0.25px #a2a8f0"><span>37.5≤BMI &lt; 50</span></div>
<div class="t" id="t138" style="left:849.80px;top:267.40px;line-height:15.6px;font-size:12px;color:#f4f4fa;font-weight:700;"><span>轻度肥胖</span></div>
<div class="t" id="t139" style="left:850.30px;top:283.82px;line-height:11.96px;font-size:9.2px;color:#a2a8f0;font-weight:400;-webkit-text-stroke:0.25px #a2a8f0"><span>28≤BMI &lt; 32.5</span></div>
<div class="t" id="t140" style="right:439.80px;text-align:right;top:366.40px;line-height:15.6px;font-size:12px;color:#f4f4fa;font-weight:700;"><span>中度肥胖</span></div>
<div class="t" id="t141" style="right:438.80px;text-align:right;top:382.32px;line-height:11.96px;font-size:9.2px;color:#a2a8f0;font-weight:400;-webkit-text-stroke:0.25px #a2a8f0"><span>32.5≤BMI &lt; 37.5</span></div>
<div class="r" style="left:930px;top:125px;width:221.00px;height:297.00px;background:#252c4b;border-radius:8px;"></div>
<svg class="r" style="left:943px;top:135px" width="13" height="14" viewBox="0 0 13 14"><rect x="0" y="0" width="1.8" height="12.8" fill="#3fec4c"/><rect x="0" y="11" width="12.1" height="1.8" fill="#3fec4c"/><path d="M3.1 7.6L4.8 6.2L6 6.6L8.9 2.2L11.8 5" fill="none" stroke="#3fec4c" stroke-width="1.8" stroke-linejoin="round"/></svg>
<div class="t" id="t142" style="left:961.90px;top:135.27px;line-height:15.86px;font-size:12.2px;color:#f2f3fa;font-weight:700;letter-spacing:1.2px"><span>治疗前后指标改善率</span></div>
<div class="t" id="t143" style="left:822.40px;width:300px;text-align:center;top:207.50px;line-height:15.6px;font-size:12px;color:#f4f4fa;font-weight:700;"><span>89.9%</span></div>
<div class="t" id="t144" style="left:821.80px;width:300px;text-align:center;top:222.50px;line-height:13.0px;font-size:10px;color:#9299e6;font-weight:500;"><span>BMI</span></div>
<div class="t" id="t145" style="left:889.80px;width:300px;text-align:center;top:207.90px;line-height:15.6px;font-size:12px;color:#f4f4fa;font-weight:700;"><span>79.5%</span></div>
<div class="t" id="t146" style="left:890.20px;width:300px;text-align:center;top:222.50px;line-height:13.0px;font-size:10px;color:#9299e6;font-weight:500;"><span>体脂率</span></div>
<div class="t" id="t147" style="left:958.20px;width:300px;text-align:center;top:207.90px;line-height:15.6px;font-size:12px;color:#f4f4fa;font-weight:700;"><span>67.7%</span></div>
<div class="t" id="t148" style="left:957.40px;width:300px;text-align:center;top:222.50px;line-height:13.0px;font-size:10px;color:#9299e6;font-weight:500;"><span>空腹血糖</span></div>
<div class="t" id="t149" style="left:822.40px;width:300px;text-align:center;top:280.90px;line-height:15.6px;font-size:12px;color:#f4f4fa;font-weight:700;"><span>64.5%</span></div>
<div class="t" id="t150" style="left:821.80px;width:300px;text-align:center;top:294.90px;line-height:13.0px;font-size:10px;color:#9299e6;font-weight:500;"><span>餐后血糖</span></div>
<div class="t" id="t151" style="left:889.80px;width:300px;text-align:center;top:281.30px;line-height:15.6px;font-size:12px;color:#f4f4fa;font-weight:700;"><span>54.6%</span></div>
<div class="t" id="t152" style="left:891.20px;width:300px;text-align:center;top:294.90px;line-height:13.0px;font-size:10px;color:#9299e6;font-weight:500;"><span>糖化血红蛋白</span></div>
<div class="t" id="t153" style="left:958.20px;width:300px;text-align:center;top:281.30px;line-height:15.6px;font-size:12px;color:#f4f4fa;font-weight:700;"><span>68.9%</span></div>
<div class="t" id="t154" style="left:958.20px;width:300px;text-align:center;top:294.40px;line-height:13.0px;font-size:10px;color:#9299e6;font-weight:500;"><span>甘油三酯</span></div>
<div class="t" id="t155" style="left:822.50px;width:300px;text-align:center;top:354.70px;line-height:15.6px;font-size:12px;color:#f4f4fa;font-weight:700;"><span>66.5%</span></div>
<div class="t" id="t156" style="left:821.90px;width:300px;text-align:center;top:368.60px;line-height:13.0px;font-size:10px;color:#9299e6;font-weight:500;"><span>低...胆固醇</span></div>
<div class="t" id="t157" style="left:890.00px;width:300px;text-align:center;top:354.30px;line-height:15.6px;font-size:12px;color:#f4f4fa;font-weight:700;"><span>59.3%</span></div>
<div class="t" id="t158" style="left:889.90px;width:300px;text-align:center;top:368.80px;line-height:13.0px;font-size:10px;color:#9299e6;font-weight:500;"><span>血压</span></div>
<svg class="r" style="left:0;top:0" width="1175" height="643"><circle cx="972.2" cy="189.8" r="11.2" fill="none" stroke="#3b4263" stroke-width="4.8"/><circle cx="972.2" cy="189.8" r="11.2" fill="none" stroke="#ffffff" stroke-width="4.8" stroke-dasharray="63.26 70.37" transform="rotate(-90 972.2 189.8)"/><circle cx="1040.3" cy="189.8" r="11.2" fill="none" stroke="#3b4263" stroke-width="4.8"/><circle cx="1040.3" cy="189.8" r="11.2" fill="none" stroke="#ffffff" stroke-width="4.8" stroke-dasharray="55.95 70.37" transform="rotate(-90 1040.3 189.8)"/><circle cx="1108.1" cy="189.8" r="11.2" fill="none" stroke="#3b4263" stroke-width="4.8"/><circle cx="1108.1" cy="189.8" r="11.2" fill="none" stroke="#ffffff" stroke-width="4.8" stroke-dasharray="47.64 70.37" transform="rotate(-90 1108.1 189.8)"/><circle cx="972.2" cy="263.3" r="11.2" fill="none" stroke="#3b4263" stroke-width="4.8"/><circle cx="972.2" cy="263.3" r="11.2" fill="none" stroke="#ffffff" stroke-width="4.8" stroke-dasharray="45.39 70.37" transform="rotate(-90 972.2 263.3)"/><circle cx="1040.3" cy="263.3" r="11.2" fill="none" stroke="#3b4263" stroke-width="4.8"/><circle cx="1040.3" cy="263.3" r="11.2" fill="none" stroke="#ffffff" stroke-width="4.8" stroke-dasharray="38.42 70.37" transform="rotate(-90 1040.3 263.3)"/><circle cx="1108.1" cy="263.3" r="11.2" fill="none" stroke="#3b4263" stroke-width="4.8"/><circle cx="1108.1" cy="263.3" r="11.2" fill="none" stroke="#ffffff" stroke-width="4.8" stroke-dasharray="48.49 70.37" transform="rotate(-90 1108.1 263.3)"/><circle cx="972.2" cy="336.8" r="11.2" fill="none" stroke="#3b4263" stroke-width="4.8"/><circle cx="972.2" cy="336.8" r="11.2" fill="none" stroke="#ffffff" stroke-width="4.8" stroke-dasharray="46.80 70.37" transform="rotate(-90 972.2 336.8)"/><circle cx="1040.3" cy="336.8" r="11.2" fill="none" stroke="#3b4263" stroke-width="4.8"/><circle cx="1040.3" cy="336.8" r="11.2" fill="none" stroke="#ffffff" stroke-width="4.8" stroke-dasharray="41.73 70.37" transform="rotate(-90 1040.3 336.8)"/></svg>
<div class="t" id="t159" style="left:890.00px;width:300px;text-align:center;top:399.97px;line-height:10.66px;font-size:8.2px;color:#7c82b6;font-weight:500;"><span>* 首诊和最后一次复诊检查指标的变化情况</span></div>
<div class="r" style="left:426px;top:432px;width:176.00px;height:193.00px;background:#252c4b;border-radius:8px;"></div>
<svg class="r" style="left:438px;top:441px" width="13" height="14" viewBox="0 0 13 14"><rect x="0" y="0" width="1.8" height="12.8" fill="#3fec4c"/><rect x="0" y="11" width="12.1" height="1.8" fill="#3fec4c"/><path d="M3.1 7.6L4.8 6.2L6 6.6L8.9 2.2L11.8 5" fill="none" stroke="#3fec4c" stroke-width="1.8" stroke-linejoin="round"/></svg>
<div class="t" id="t160" style="left:457.40px;top:440.57px;line-height:15.86px;font-size:12.2px;color:#f2f3fa;font-weight:700;letter-spacing:1.2px"><span>减重治疗方案占比</span></div>
<div class="r" style="left:426px;top:472.5px;width:176.00px;height:27.80px;background:#2d3455;border-radius:0px;"></div>
<div class="t" id="t161" style="left:436.00px;top:482.15px;line-height:11.7px;font-size:9px;color:#f4f4fa;font-weight:700;"><span>高蛋白</span></div>
<div class="t" id="t162" style="right:629.60px;text-align:right;top:480.88px;line-height:13.65px;font-size:10.5px;color:#f4f4fa;font-weight:400;-webkit-text-stroke:0.35px #f4f4fa"><span>56.7%</span></div>
<div class="r" style="left:552.7px;top:483.9px;width:39.10px;height:5.00px;background:#ffffff;border-radius:2.5px;"></div>
<div class="t" id="t163" style="left:436.00px;top:510.35px;line-height:11.7px;font-size:9px;color:#9aa2f0;font-weight:700;"><span>儿童限能量</span></div>
<div class="t" id="t164" style="right:628.60px;text-align:right;top:508.08px;line-height:13.65px;font-size:10.5px;color:#f4f4fa;font-weight:400;-webkit-text-stroke:0.35px #f4f4fa"><span>11.6%</span></div>
<div class="r" style="left:552.7px;top:511.7px;width:8.40px;height:5.00px;background:#8a94e6;border-radius:2.5px;"></div>
<div class="r" style="left:426px;top:528.1px;width:176.00px;height:27.80px;background:#2d3455;border-radius:0px;"></div>
<div class="t" id="t165" style="left:436.00px;top:537.55px;line-height:11.7px;font-size:9px;color:#f4f4fa;font-weight:700;"><span>药物治疗</span></div>
<div class="t" id="t166" style="right:628.80px;text-align:right;top:536.17px;line-height:13.65px;font-size:10.5px;color:#f4f4fa;font-weight:400;-webkit-text-stroke:0.35px #f4f4fa"><span>11.4%</span></div>
<div class="r" style="left:552.7px;top:539.5px;width:8.30px;height:5.00px;background:#ffffff;border-radius:2.5px;"></div>
<div class="t" id="t167" style="left:435.30px;top:565.35px;line-height:11.7px;font-size:9px;color:#9aa2f0;font-weight:700;"><span>轻断食</span></div>
<div class="t" id="t168" style="right:629.10px;text-align:right;top:563.97px;line-height:13.65px;font-size:10.5px;color:#f4f4fa;font-weight:400;-webkit-text-stroke:0.35px #f4f4fa"><span>10.5%</span></div>
<div class="r" style="left:552.7px;top:567.3px;width:8.30px;height:5.00px;background:#8a94e6;border-radius:2.5px;"></div>
<div class="r" style="left:426px;top:583.7px;width:176.00px;height:27.80px;background:#2d3455;border-radius:0px;"></div>
<div class="t" id="t169" style="left:435.40px;top:593.55px;line-height:11.7px;font-size:9px;color:#f4f4fa;font-weight:700;"><span>限能量</span></div>
<div class="t" id="t170" style="right:628.70px;text-align:right;top:591.98px;line-height:13.65px;font-size:10.5px;color:#f4f4fa;font-weight:400;-webkit-text-stroke:0.35px #f4f4fa"><span>9.8%</span></div>
<div class="r" style="left:552.7px;top:595.1px;width:7.50px;height:5.00px;background:#ffffff;border-radius:2.5px;"></div>
<div class="r" style="left:612px;top:432px;width:539.00px;height:193.00px;background:#252c4b;border-radius:8px;"></div>
<div class="t" id="t171" style="left:624.30px;top:443.62px;line-height:17.55px;font-size:13.5px;color:#3fec4c;font-weight:700;letter-spacing:1.3px"><span>居家管理数据</span></div>
<svg class="r" style="left:625px;top:467.5px" width="13" height="14" viewBox="0 0 13 14"><rect x="0" y="0" width="1.8" height="12.8" fill="#3fec4c"/><rect x="0" y="11" width="12.1" height="1.8" fill="#3fec4c"/><path d="M3.1 7.6L4.8 6.2L6 6.6L8.9 2.2L11.8 5" fill="none" stroke="#3fec4c" stroke-width="1.8" stroke-linejoin="round"/></svg>
<div class="t" id="t172" style="left:643.50px;top:467.87px;line-height:15.86px;font-size:12.2px;color:#f4f4fa;font-weight:700;letter-spacing:1.2px"><span>体重打卡趋势</span></div>
<div class="t" id="t173" style="left:645.00px;width:300px;text-align:center;top:446.20px;line-height:23.4px;font-size:18px;color:#ffffff;font-weight:400;-webkit-text-stroke:0.35px #fff"><span>3192</span></div>
<div class="t" id="t174" style="left:646.30px;width:300px;text-align:center;top:469.80px;line-height:13.0px;font-size:10px;color:#aeaaee;font-weight:500;"><span>本月</span></div>
<div class="t" id="t175" style="left:713.80px;width:300px;text-align:center;top:445.70px;line-height:23.4px;font-size:18px;color:#ffffff;font-weight:400;-webkit-text-stroke:0.35px #fff"><span>22646</span></div>
<div class="t" id="t176" style="left:713.80px;width:300px;text-align:center;top:469.80px;line-height:13.0px;font-size:10px;color:#aeaaee;font-weight:500;"><span>今年</span></div>
<div class="t" id="t177" style="left:789.00px;width:300px;text-align:center;top:446.00px;line-height:23.4px;font-size:18px;color:#ffffff;font-weight:400;-webkit-text-stroke:0.35px #fff"><span>38913</span></div>
<div class="t" id="t178" style="left:789.40px;width:300px;text-align:center;top:469.90px;line-height:13.0px;font-size:10px;color:#aeaaee;font-weight:500;"><span>累计</span></div>
<div class="t" id="t179" style="right:537.20px;text-align:right;top:511.20px;line-height:10.4px;font-size:8px;color:#e0e2ee;font-weight:400;"><span>100</span></div>
<div class="t" id="t180" style="right:538.00px;text-align:right;top:553.20px;line-height:10.4px;font-size:8px;color:#e0e2ee;font-weight:400;"><span>50</span></div>
<div class="t" id="t181" style="right:538.20px;text-align:right;top:594.70px;line-height:10.4px;font-size:8px;color:#e0e2ee;font-weight:400;"><span>0&thinsp;次</span></div>
<svg class="r" style="left:0;top:0" width="1175" height="643"><path d="M650,515.5H976" stroke="#6a72b8" stroke-width="1" stroke-dasharray="1.5 2"/><rect x="650.80" y="546.2" width="12" height="56.50" rx="2" fill="#5b68ad"/><rect x="666.52" y="553" width="12" height="49.70" rx="2" fill="#8a96e8"/><rect x="682.24" y="557.2" width="12" height="45.50" rx="2" fill="#5b68ad"/><rect x="697.96" y="566" width="12" height="36.70" rx="2" fill="#8a96e8"/><rect x="713.68" y="568" width="12" height="34.70" rx="2" fill="#5b68ad"/><rect x="729.40" y="566" width="12" height="36.70" rx="2" fill="#8a96e8"/><rect x="745.12" y="561.8" width="12" height="40.90" rx="2" fill="#5b68ad"/><rect x="760.84" y="553" width="12" height="49.70" rx="2" fill="#8a96e8"/><rect x="776.56" y="545" width="12" height="57.70" rx="2" fill="#5b68ad"/><rect x="792.28" y="533" width="12" height="69.70" rx="2" fill="#8a96e8"/><rect x="808.00" y="523.6" width="12" height="79.10" rx="2" fill="#5b68ad"/><rect x="823.72" y="515.6" width="12" height="87.10" rx="2" fill="#8a96e8"/><rect x="839.44" y="513.1" width="12" height="89.60" rx="2" fill="#ffffff"/><rect x="855.16" y="515.6" width="12" height="87.10" rx="2" fill="#8a96e8"/><rect x="870.88" y="518.3" width="12" height="84.40" rx="2" fill="#5b68ad"/><rect x="886.60" y="522.1" width="12" height="80.60" rx="2" fill="#8a96e8"/><rect x="902.32" y="528.8" width="12" height="73.90" rx="2" fill="#5b68ad"/><rect x="918.04" y="534.1" width="12" height="68.60" rx="2" fill="#8a96e8"/><rect x="933.76" y="535.8" width="12" height="66.90" rx="2" fill="#5b68ad"/><rect x="949.48" y="533" width="12" height="69.70" rx="2" fill="#8a96e8"/><rect x="965.20" y="530.9" width="12" height="71.80" rx="2" fill="#5b68ad"/></svg>
<div class="t" id="t182" style="left:695.60px;width:300px;text-align:center;top:497.80px;line-height:15.6px;font-size:12px;color:#ffffff;font-weight:700;"><span>108</span></div>
<div class="t" id="t183" style="left:505.30px;width:300px;text-align:center;top:607.01px;line-height:11.18px;font-size:8.6px;color:#e0e2ee;font-weight:400;"><span>07/03</span></div>
<div class="t" id="t184" style="left:616.10px;width:300px;text-align:center;top:606.96px;line-height:11.18px;font-size:8.6px;color:#e0e2ee;font-weight:400;"><span>07/10</span></div>
<div class="t" id="t185" style="left:727.80px;width:300px;text-align:center;top:606.96px;line-height:11.18px;font-size:8.6px;color:#e0e2ee;font-weight:400;"><span>07/17</span></div>
<div class="t" id="t186" style="left:822.10px;width:300px;text-align:center;top:606.91px;line-height:11.18px;font-size:8.6px;color:#e0e2ee;font-weight:400;"><span>07/23</span></div>
<div class="t" id="t187" style="left:1015.80px;top:460.72px;line-height:14.56px;font-size:11.2px;color:#b0b4e6;font-weight:500;"><span>饮食记录</span></div>
<div class="t" id="t188" style="left:1071.60px;top:455.93px;line-height:24.05px;font-size:18.5px;color:#ffffff;font-weight:400;-webkit-text-stroke:0.35px #fff"><span>10846</span></div>
<div class="t" id="t189" style="left:1015.80px;top:491.92px;line-height:14.56px;font-size:11.2px;color:#b0b4e6;font-weight:500;"><span>用药记录</span></div>
<div class="t" id="t190" style="left:1071.60px;top:486.12px;line-height:24.05px;font-size:18.5px;color:#ffffff;font-weight:400;-webkit-text-stroke:0.35px #fff"><span>1124</span></div>
<div class="t" id="t191" style="left:1015.80px;top:522.12px;line-height:14.56px;font-size:11.2px;color:#b0b4e6;font-weight:500;"><span>运动记录</span></div>
<div class="t" id="t192" style="left:1072.00px;top:517.48px;line-height:24.05px;font-size:18.5px;color:#ffffff;font-weight:400;-webkit-text-stroke:0.35px #fff"><span>20192</span></div>
<div class="t" id="t193" style="left:1015.00px;top:552.47px;line-height:14.56px;font-size:11.2px;color:#b0b4e6;font-weight:500;"><span>减重随访</span></div>
<div class="t" id="t194" style="left:1071.00px;top:547.73px;line-height:24.05px;font-size:18.5px;color:#ffffff;font-weight:400;-webkit-text-stroke:0.35px #fff"><span>1516</span></div>
<div class="t" id="t195" style="left:1015.00px;top:582.72px;line-height:14.56px;font-size:11.2px;color:#b0b4e6;font-weight:500;"><span>复诊提醒</span></div>
<div class="t" id="t196" style="left:1072.00px;top:577.98px;line-height:24.05px;font-size:18.5px;color:#ffffff;font-weight:400;-webkit-text-stroke:0.35px #fff"><span>3261</span></div>
</body></html>
